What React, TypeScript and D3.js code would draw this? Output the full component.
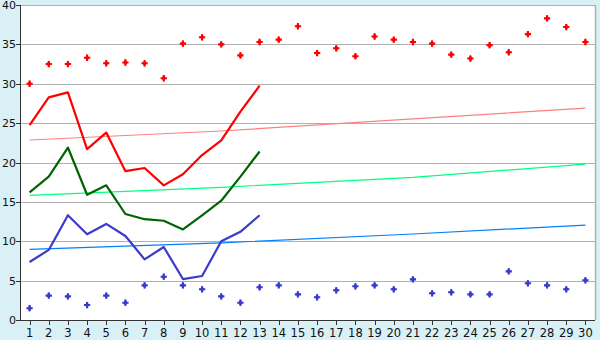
import React from "react";
import * as d3 from "d3";

const categories = d3.range(1, 31).map(String);
const yTicks = [0, 5, 10, 15, 20, 25, 30, 35, 40];

const redPoints = [30.0, 32.5, 32.5, 33.3, 32.6, 32.7, 32.6, 30.7, 35.1, 35.9, 35.0, 33.6, 35.3, 35.6, 37.3, 33.9, 34.5, 33.5, 36.0, 35.6, 35.3, 35.1, 33.7, 33.2, 34.9, 34.0, 36.3, 38.3, 37.2, 35.3];
const bluePoints = [1.5, 3.1, 3.0, 1.9, 3.1, 2.2, 4.4, 5.5, 4.4, 3.9, 3.0, 2.2, 4.15, 4.4, 3.26, 2.88, 3.77, 4.28, 4.4, 3.9, 5.16, 3.39, 3.52, 3.26, 3.26, 6.18, 4.66, 4.4, 3.9, 5.04];

const redLine = [24.76, 28.27, 28.9, 21.7, 23.8, 18.9, 19.3, 17.1, 18.5, 20.95, 22.8, 26.45, 29.75];
const greenLine = [16.2, 18.2, 21.9, 15.9, 17.1, 13.46, 12.8, 12.6, 11.5, 13.3, 15.15, 18.2, 21.4];
const blueLine = [7.37, 8.9, 13.3, 10.9, 12.2, 10.67, 7.7, 9.27, 5.2, 5.59, 10.0, 11.2, 13.3];

const trendCats = [1, 11, 21, 30];
const redTrend = [22.86, 24.0, 25.55, 26.9];
const greenTrend = [15.83, 16.85, 18.1, 19.8];
const blueTrend = [8.97, 9.8, 10.92, 12.06];

const W = 600, H = 340;
const L = 20, R = 595, T = 5, B = 320;

export default function App() {
  const x = d3.scaleBand().domain(categories).range([L, R]);
  const cx = (i: number) => (x(categories[i]) as number) + x.bandwidth() / 2;
  const y = d3.scaleLinear().domain([0, 40]).range([B, T]);

  const lineGen = d3.line<number>().x((_, i) => cx(i)).y((d) => y(d));
  const trendGen = d3
    .line<number>()
    .x((_, i) => cx(trendCats[i] - 1))
    .y((d) => y(d));
  const cross = d3.symbol().type(d3.symbolCross).size(22)() as string;
  const diamond = d3.symbol().type(d3.symbolDiamond).size(14)() as string;
  const font = "Verdana, 'DejaVu Sans', sans-serif";

  return (
    <svg width={W} height={H} style={{ position: "fixed", left: 0, top: 0 }} fontFamily={font}>
      <rect x={0} y={0} width={W} height={H} fill="#d9f0f7" />
      <rect x={L} y={T} width={R - L} height={B - T} fill="#ffffff" />
      {yTicks.slice(1).map((t) => (
        <line key={t} x1={L} x2={R} y1={Math.round(y(t)) + 0.5} y2={Math.round(y(t)) + 0.5} stroke="#b0b0b0" strokeWidth={1} />
      ))}
      <line x1={R + 0.5} x2={R + 0.5} y1={T} y2={B} stroke="#b0b0b0" strokeWidth={1.5} />

      {/* trend lines */}
      <path d={trendGen(redTrend) as string} fill="none" stroke="#ff8080" strokeWidth={1.2} />
      <path d={trendGen(greenTrend) as string} fill="none" stroke="#00ff80" strokeWidth={1.2} />
      <path d={trendGen(blueTrend) as string} fill="none" stroke="#0080ff" strokeWidth={1.2} />

      {/* lines */}
      <path d={lineGen(redLine) as string} fill="none" stroke="#ff0000" strokeWidth={2.2} strokeLinejoin="round" />
      <path d={lineGen(greenLine) as string} fill="none" stroke="#006400" strokeWidth={2.2} strokeLinejoin="round" />
      <path d={lineGen(blueLine) as string} fill="none" stroke="#3a3acc" strokeWidth={2.2} strokeLinejoin="round" />

      {/* scatter points */}
      {redPoints.map((v, i) => (
        <g key={"r" + i} transform={`translate(${cx(i)},${y(v)})`} fill="#ff0000">
          <path d={cross} />
          <path d={diamond} />
        </g>
      ))}
      {bluePoints.map((v, i) => (
        <g key={"b" + i} transform={`translate(${cx(i)},${y(v)})`} fill="#3a3acc">
          <path d={cross} />
          <path d={diamond} />
        </g>
      ))}

      {/* axes */}
      <line x1={L + 0.5} x2={L + 0.5} y1={T} y2={B + 1} stroke="#333" strokeWidth={1} />
      <line x1={L} x2={R} y1={B + 0.5} y2={B + 0.5} stroke="#333" strokeWidth={1} />
      {yTicks.map((t) => (
        <g key={t}>
          <line x1={L - 4} x2={L} y1={Math.round(y(t)) + 0.5} y2={Math.round(y(t)) + 0.5} stroke="#333" />
          <text x={L - 4} y={y(t) + 4} fontSize={11} textAnchor="end" fill="#111">
            {t}
          </text>
        </g>
      ))}
      {categories.map((c, i) => (
        <g key={c}>
          <line x1={Math.round(cx(i)) + 0.5} x2={Math.round(cx(i)) + 0.5} y1={B} y2={B + 5} stroke="#333" />
          <text x={cx(i)} y={B + 17} fontSize={11.5} textAnchor="middle" fill="#111">
            {c}
          </text>
        </g>
      ))}
    </svg>
  );
}
